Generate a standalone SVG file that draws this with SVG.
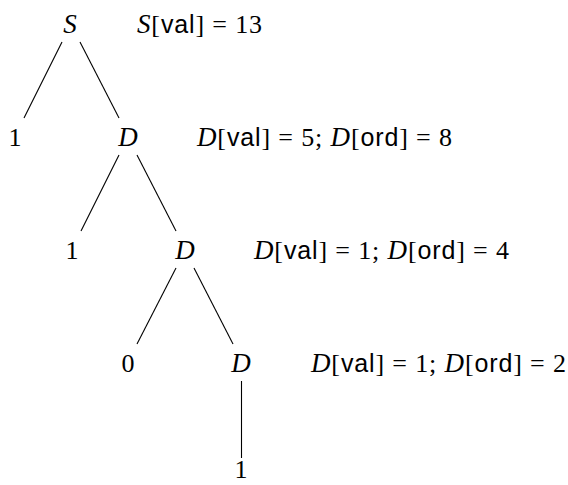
<svg xmlns="http://www.w3.org/2000/svg" width="568" height="485" viewBox="0 0 568 485">
<style>
text{font-family:"Liberation Serif","DejaVu Serif",serif;font-size:26px;fill:#000}
.n{text-anchor:middle}
.mi{font-style:italic;font-size:27px}
.sf{font-family:"Liberation Sans","DejaVu Sans",sans-serif;font-size:25px}
.edges line{stroke:#000;stroke-width:1.1}
</style>
<rect width="568" height="485" fill="#fff"/>
<g id="connectors" class="edges">
<line x1="62" y1="42" x2="24" y2="118"/>
<line x1="80" y1="42" x2="119" y2="118"/>
<line x1="119" y1="155" x2="81" y2="231"/>
<line x1="137" y1="155" x2="176" y2="231"/>
<line x1="176" y1="268" x2="137" y2="344"/>
<line x1="194" y1="268" x2="233" y2="344"/>
<line x1="241.5" y1="381" x2="241.5" y2="458"/>
</g>
<g id="node-S"><text class="n mi" x="70" y="33">S</text></g>
<g id="node-1a"><text class="n" x="15" y="146">1</text></g>
<g id="node-D1"><text class="n mi" x="128" y="146">D</text></g>
<g id="node-1b"><text class="n" x="72" y="259">1</text></g>
<g id="node-D2"><text class="n mi" x="185" y="259">D</text></g>
<g id="node-0"><text class="n" x="128" y="372">0</text></g>
<g id="node-D3"><text class="n mi" x="241" y="372">D</text></g>
<g id="node-1c"><text class="n" x="241" y="478">1</text></g>
<g id="labels">
<text x="137" y="33" textLength="125" lengthAdjust="spacing"><tspan class="mi">S</tspan>[<tspan class="sf">val</tspan>] = 13</text>
<text x="197" y="146" textLength="255" lengthAdjust="spacing"><tspan class="mi">D</tspan>[<tspan class="sf">val</tspan>] = 5; <tspan class="mi">D</tspan>[<tspan class="sf">ord</tspan>] = 8</text>
<text x="254" y="259" textLength="255" lengthAdjust="spacing"><tspan class="mi">D</tspan>[<tspan class="sf">val</tspan>] = 1; <tspan class="mi">D</tspan>[<tspan class="sf">ord</tspan>] = 4</text>
<text x="311" y="372" textLength="255" lengthAdjust="spacing"><tspan class="mi">D</tspan>[<tspan class="sf">val</tspan>] = 1; <tspan class="mi">D</tspan>[<tspan class="sf">ord</tspan>] = 2</text>
</g>
</svg>
